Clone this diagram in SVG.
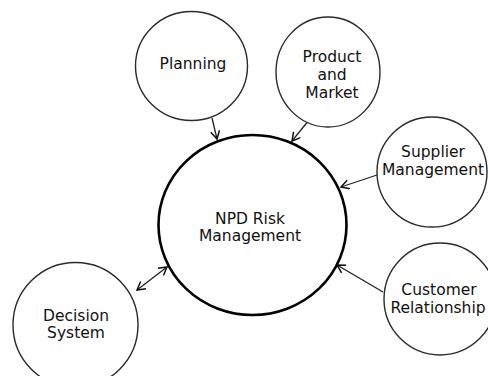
<svg xmlns="http://www.w3.org/2000/svg" width="488" height="376" viewBox="0 0 488 376">
<style>
.node{fill:#fff;stroke:#2a2a2a;stroke-width:1.4}
.main{fill:#fff;stroke:#000;stroke-width:2.6}
.lbl{font-family:"DejaVu Sans",sans-serif;font-size:15.5px;fill:#111;text-anchor:middle}
.conn{stroke:#222;stroke-width:1.3;fill:none}
</style>
<defs>
<marker id="ah" markerWidth="12" markerHeight="12" refX="9" refY="5" orient="auto-start-reverse" markerUnits="userSpaceOnUse">
<path d="M1,0.5 L9,5 L1,9.5" fill="none" stroke="#111" stroke-width="1.5"/>
</marker>
</defs>
<rect width="488" height="376" fill="#fff"/>
<g id="connectors">
<line class="conn" x1="212" y1="118" x2="217" y2="139" marker-end="url(#ah)"/>
<line class="conn" x1="309" y1="120" x2="292" y2="141" marker-end="url(#ah)"/>
<line class="conn" x1="377" y1="175" x2="341" y2="187" marker-end="url(#ah)"/>
<line class="conn" x1="383" y1="292" x2="337" y2="265" marker-end="url(#ah)"/>
<line class="conn" x1="137" y1="290" x2="167" y2="267" marker-start="url(#ah)" marker-end="url(#ah)"/>
</g>
<g id="planning">
<ellipse class="node" cx="191.5" cy="66" rx="56" ry="54.5"/>
<text class="lbl" x="193" y="69">Planning</text>
</g>
<g id="product">
<ellipse class="node" cx="328" cy="72" rx="52" ry="55"/>
<text class="lbl" x="332" y="62">Product</text>
<text class="lbl" x="332" y="80">and</text>
<text class="lbl" x="332" y="98">Market</text>
</g>
<g id="supplier">
<circle class="node" cx="432" cy="172" r="55"/>
<text class="lbl" x="433" y="157">Supplier</text>
<text class="lbl" x="433" y="175">Management</text>
</g>
<g id="customer">
<circle class="node" cx="440" cy="299" r="56"/>
<text class="lbl" x="439" y="295">Customer</text>
<text class="lbl" x="438" y="313">Relationship</text>
</g>
<g id="decision">
<circle class="node" cx="75.5" cy="325" r="62.5"/>
<text class="lbl" x="76" y="321">Decision</text>
<text class="lbl" x="76" y="338">System</text>
</g>
<g id="npd">
<ellipse class="main" cx="252.5" cy="225" rx="94" ry="90"/>
<text class="lbl" x="250" y="224">NPD Risk</text>
<text class="lbl" x="250" y="241">Management</text>
</g>
</svg>
